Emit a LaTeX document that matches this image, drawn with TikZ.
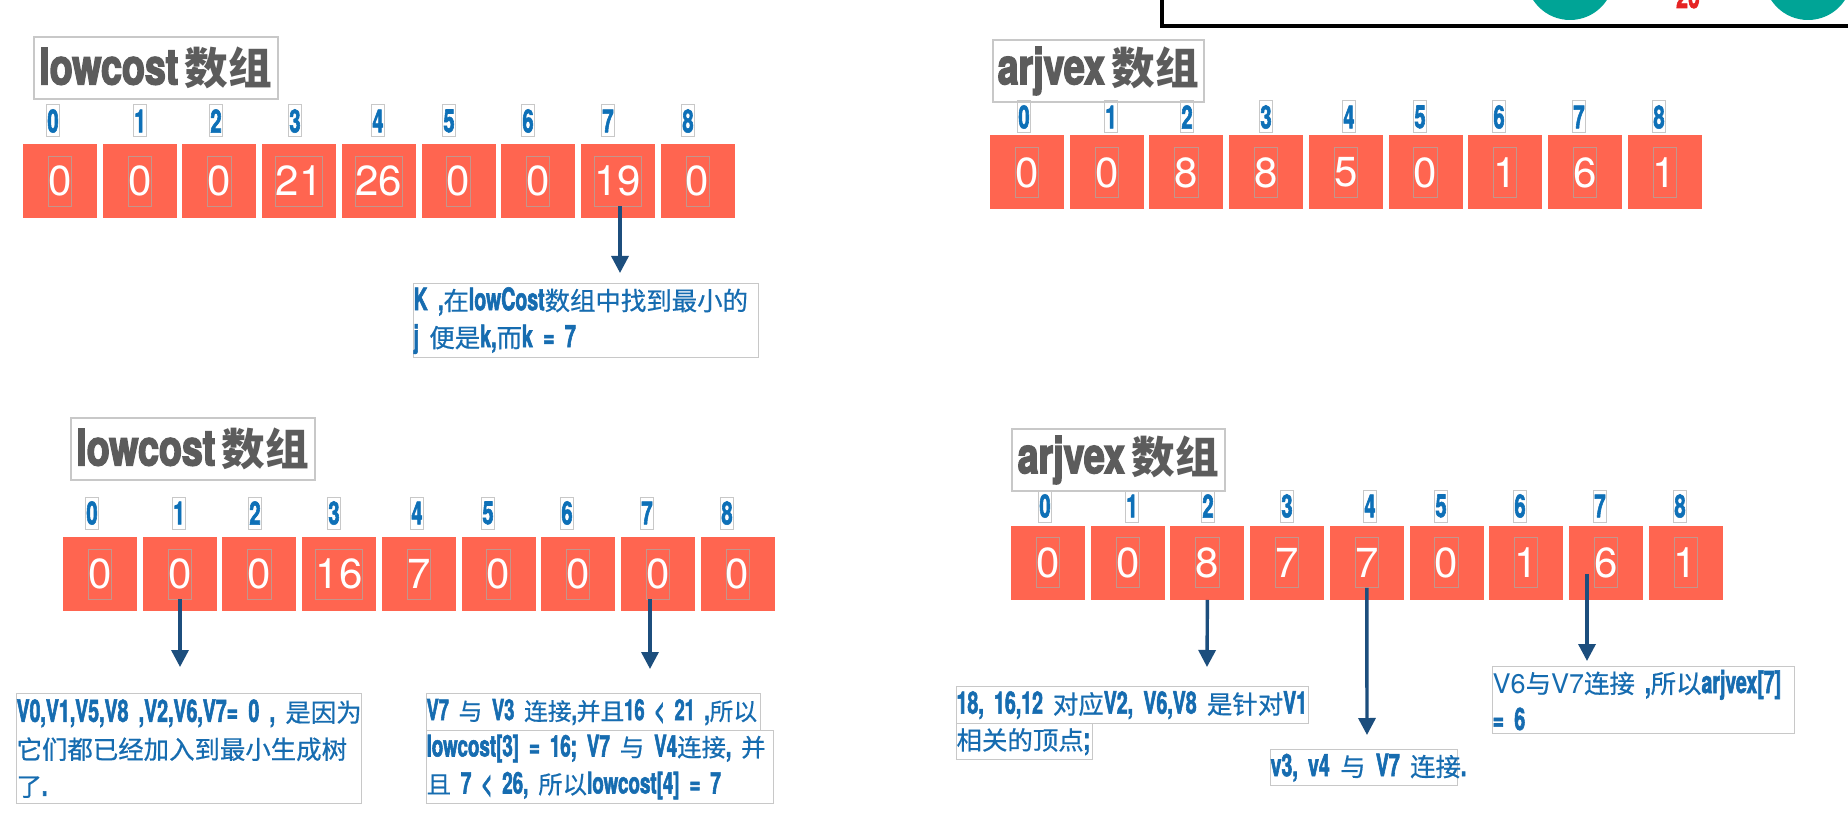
\documentclass[tikz,border=0pt]{standalone}
\usepackage{fontspec}
\usetikzlibrary{arrows.meta,positioning,calc}
\newfontfamily\cndfont[FakeStretch=0.63,FakeBold=1.8]{TeX Gyre Heros}
\newfontfamily\ttlfont[FakeStretch=0.75,FakeBold=3]{TeX Gyre Heros}
\newfontfamily\hvfont{TeX Gyre Heros}
\newfontfamily\cjkfont[Scale=0.8]{Noto Sans CJK SC}
\newfontfamily\cjkmid[Scale=0.82,FakeBold=0.6]{Noto Sans CJK SC}
\newcommand{\cnd}{\cndfont\bfseries}
\newcommand{\zht}[1]{{\cjkmid\mdseries #1}}
\definecolor{cellred}{RGB}{255,101,80}
\definecolor{valline}{RGB}{195,150,140}
\definecolor{idxblue}{RGB}{14,112,183}
\definecolor{txtblue}{RGB}{22,108,176}
\definecolor{navy}{RGB}{28,78,125}
\definecolor{boxgray}{RGB}{200,200,200}
\definecolor{titlegray}{RGB}{92,92,92}
\definecolor{tealc}{RGB}{0,164,150}
\definecolor{redc}{RGB}{230,35,35}
\tikzset{
  cell/.style={fill=cellred,minimum width=37pt,minimum height=37pt,inner sep=0pt},
  val/.style={draw=valline,line width=0.4pt,text=white,font=\hvfont\fontsize{21}{21}\selectfont,
    inner xsep=0pt,inner ysep=0pt,minimum height=25pt},
  idx/.style={draw=boxgray,line width=0.5pt,text=idxblue,font=\cnd\fontsize{16}{16}\selectfont,
    inner xsep=0.6pt,inner ysep=0pt,minimum height=16pt},
  ttl/.style={draw=boxgray,line width=0.8pt,text=titlegray,inner sep=0pt,anchor=north west,minimum height=31pt},
  note/.style={draw=boxgray,line width=0.6pt,text=txtblue,inner xsep=0pt,inner ysep=0pt,
    align=left,anchor=north west,font=\cnd\fontsize{15.5}{18.5}\selectfont},
  ptr/.style={draw=navy,line width=1.7pt,-{Triangle[length=8.5pt,width=8.5pt]}}
}
\newcommand{\ttltext}[1]{{\ttlfont\bfseries\fontsize{25}{25}\selectfont #1} {\cjkfont\bfseries\fontsize{27.3}{27.3}\selectfont 数组}}
\begin{document}
\begin{tikzpicture}[x=0.5pt,y=-0.5pt]
\useasboundingbox (0,0) rectangle (1848,818);
\clip (0,0) rectangle (1848,818);
\fill[white] (0,0) rectangle (1848,818);

% part of the next slide, cut off at the top
\fill[tealc] (1570,-24) circle[radius=22pt];
\fill[tealc] (1808,-24) circle[radius=22pt];
\node[text=redc,font=\cnd\fontsize{17}{17}\selectfont,anchor=base] (fr20) at (1688,8) {20};
\draw[line width=2pt] (1162,-60) -- (1162,26) -- (1900,26);

% lowcost, first step
\node[ttl,minimum width=122pt] (tl-t) at (33,36) {\ttltext{lowcost}};
\foreach \ix/\dx in {0/0,1/87,2/163,3/242,4/325,5/396,6/475,7/555,8/635}
  \node[idx] (tl-i\ix) at ({53+\dx},121) {\ix};
\foreach \v [count=\i from 0] in {0,0,0,21,26,0,0,19,0}{
  \node[cell] (tl-c\i) at ({60+79.7*\i},181) {};
  \node[val] (tl-v\i) at (tl-c\i) {\v};
}
\node[note,text width=172.5pt,minimum height=37pt] (tl-n) at (413,283)
  {\mbox{K ,\zht{在}lowCost\zht{数组中找到最小的}}\\\mbox{j \zht{便是}k,\zht{而}k = 7}};
\coordinate (tl-tip) at (620,273);
\draw[ptr] (tl-v7.south -| tl-tip) -- (tl-tip);

% arjvex, first step
\node[ttl,minimum width=105.5pt] (tr-t) at (992,39) {\ttltext{arjvex}};
\foreach \ix/\dx in {0/0,1/87,2/163,3/242,4/325,5/396,6/475,7/555,8/635}
  \node[idx] (tr-i\ix) at ({1024+\dx},117) {\ix};
\foreach \v [count=\i from 0] in {0,0,8,8,5,0,1,6,1}{
  \node[cell] (tr-c\i) at ({1027+79.7*\i},172.5) {};
  \node[val] (tr-v\i) at (tr-c\i) {\v};
}

% lowcost, second step
\node[ttl,minimum width=122pt] (bl-t) at (70,417) {\ttltext{lowcost}};
\foreach \ix/\dx in {0/0,1/87,2/163,3/242,4/325,5/396,6/475,7/555,8/635}
  \node[idx] (bl-i\ix) at ({92+\dx},513) {\ix};
\foreach \v [count=\i from 0] in {0,0,0,16,7,0,0,0,0}{
  \node[cell] (bl-c\i) at ({100+79.7*\i},574) {};
  \node[val] (bl-v\i) at (bl-c\i) {\v};
}
\node[note,text width=172.5pt,minimum height=55pt] (bl-n1) at (16,693)
  {\mbox{V0,V1,V5,V8 ,V2,V6,V7= 0 , \zht{是因为}}\\\mbox{\zht{它们都已经加入到最小生成树}}\\\mbox{\zht{了}.}};
\node[note,text width=167pt,minimum height=18.5pt,font=\cnd\fontsize{14.5}{18.5}\selectfont] (bl-n2) at (426,693)
  {\mbox{V7 \zht{与} V3 \zht{连接},\zht{并且}16 < 21 ,\zht{所以}}};
\node[note,text width=173.5pt,minimum height=36.5pt,font=\cnd\fontsize{14.9}{18.5}\selectfont] (bl-n3) at (426,730)
  {\mbox{lowcost[3] = 16; V7 \zht{与} V4\zht{连接}, \zht{并}}\\\mbox{\zht{且} 7 < 26, \zht{所以}lowcost[4] = 7}};
\coordinate (bl-tip1) at (180,667);
\coordinate (bl-tip2) at (650,669);
\draw[ptr] (bl-v1.south -| bl-tip1) -- (bl-tip1);
\draw[ptr] (bl-v7.south -| bl-tip2) -- (bl-tip2);

% arjvex, second step
\node[ttl,minimum width=106.5pt] (br-t) at (1011,428) {\ttltext{arjvex}};
\foreach \ix/\dx in {0/0,1/87,2/163,3/242,4/325,5/396,6/475,7/555,8/635}
  \node[idx] (br-i\ix) at ({1045+\dx},506) {\ix};
\foreach \v [count=\i from 0] in {0,0,8,7,7,0,1,6,1}{
  \node[cell] (br-c\i) at ({1048+79.7*\i},562.5) {};
  \node[val] (br-v\i) at (br-c\i) {\v};
}
\node[note,text width=176pt,minimum height=18.5pt] (br-n1) at (956,686)
  {\mbox{18, 16,12\hspace{5pt}\zht{对应}V2, V6,V8 \zht{是针对}V1}};
\node[note,text width=68pt,minimum height=18pt] (br-n2) at (956,723)
  {\mbox{\zht{相关的顶点};}};
\node[note,text width=93.5pt,minimum height=18pt] (br-n3) at (1270,749)
  {\mbox{v3, v4 \zht{与} V7 \zht{连接}.}};
\node[note,text width=151pt,minimum height=33.5pt] (br-n4) at (1492,666)
  {\mbox{{\hvfont\mdseries\fontsize{13.5}{18.5}\selectfont V6}\zht{与}{\hvfont\mdseries\fontsize{13.5}{18.5}\selectfont V7}\zht{连接} ,\zht{所以}arjvex[7]}\\\mbox{= 6}};
\coordinate (br-tipA) at (1207,667);
\coordinate (br-tipB) at (1367,735);
\coordinate (br-tipC) at (1587,661);
\draw[ptr] (br-c2.south) -- (br-tipA);
\draw[ptr] (br-v4.south) -- (br-tipB);
\draw[ptr] ([yshift=7pt]br-tipC |- br-v7.south) -- (br-tipC);
\end{tikzpicture}
\end{document}
